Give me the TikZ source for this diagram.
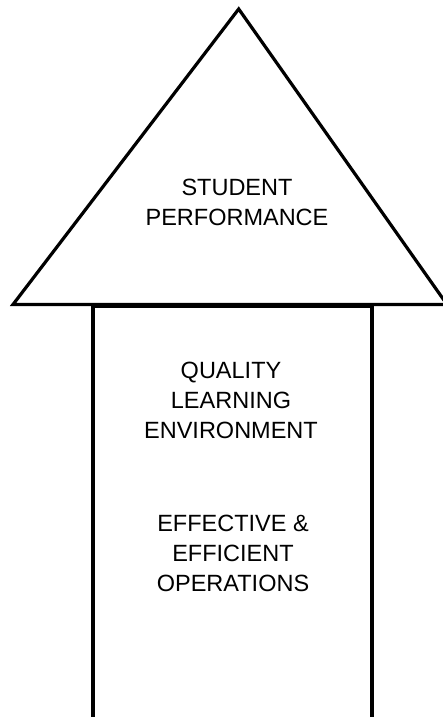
\documentclass[tikz,border=0pt]{standalone}
\usepackage{fontspec}
\setmainfont{Liberation Sans}
\begin{document}
\begin{tikzpicture}[x=1pt, y=1pt, line width=3.2pt,
  label text/.style={align=center, font=\fontsize{23.5}{30}\selectfont}]
  \useasboundingbox (0,0) rectangle (442,717);
  % arrow head
  \coordinate (T) at (238.7,708);
  \coordinate (L) at (13,412.5);
  \coordinate (R) at (447,412.5);
  \draw[line join=miter] (L) -- (T) -- (R) -- cycle;
  % arrow shaft
  \coordinate (SL) at (92.7,411);
  \coordinate (SR) at (371.7,411);
  \draw[line width=3.8pt] (92.7,-10) -- (SL) -- (SR) -- (371.7,-10);
  \node[label text] (perf) at (237,514.5) {STUDENT\\PERFORMANCE};
  \node[label text] (env) at (231,316.7) {QUALITY\\LEARNING\\ENVIRONMENT};
  \node[label text] (ops) at (233,163.7) {EFFECTIVE \&\\EFFICIENT\\OPERATIONS};
\end{tikzpicture}
\end{document}
